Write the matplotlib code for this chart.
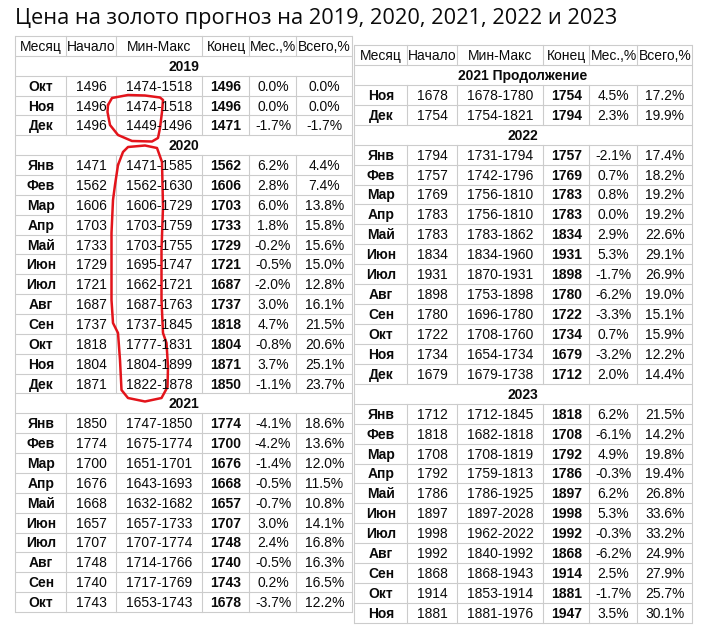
import matplotlib.pyplot as plt

# ---- data -------------------------------------------------------------
headers = ["Месяц", "Начало", "Мин-Макс", "Конец", "Мес.,%", "Всего,%"]

# left table
left_sections = ["2019", "2020", "2021"]
left_counts = [3, 12, 10]
left_months = ["Окт", "Ноя", "Дек",
               "Янв", "Фев", "Мар", "Апр", "Май", "Июн", "Июл", "Авг", "Сен", "Окт", "Ноя", "Дек",
               "Янв", "Фев", "Мар", "Апр", "Май", "Июн", "Июл", "Авг", "Сен", "Окт"]
left_start = [1496, 1496, 1496,
              1471, 1562, 1606, 1703, 1733, 1729, 1721, 1687, 1737, 1818, 1804, 1871,
              1850, 1774, 1700, 1676, 1668, 1657, 1707, 1748, 1740, 1743]
left_low = [1474, 1474, 1449,
            1471, 1562, 1606, 1703, 1703, 1695, 1662, 1687, 1737, 1777, 1804, 1822,
            1747, 1675, 1651, 1643, 1632, 1657, 1707, 1714, 1717, 1653]
left_high = [1518, 1518, 1496,
             1585, 1630, 1729, 1759, 1755, 1747, 1721, 1763, 1845, 1831, 1899, 1878,
             1850, 1774, 1701, 1693, 1682, 1733, 1774, 1766, 1769, 1743]
left_end = [1496, 1496, 1471,
            1562, 1606, 1703, 1733, 1729, 1721, 1687, 1737, 1818, 1804, 1871, 1850,
            1774, 1700, 1676, 1668, 1657, 1707, 1748, 1740, 1743, 1678]
left_mon = [0.0, 0.0, -1.7,
            6.2, 2.8, 6.0, 1.8, -0.2, -0.5, -2.0, 3.0, 4.7, -0.8, 3.7, -1.1,
            -4.1, -4.2, -1.4, -0.5, -0.7, 3.0, 2.4, -0.5, 0.2, -3.7]
left_tot = [0.0, 0.0, -1.7,
            4.4, 7.4, 13.8, 15.8, 15.6, 15.0, 12.8, 16.1, 21.5, 20.6, 25.1, 23.7,
            18.6, 13.6, 12.0, 11.5, 10.8, 14.1, 16.8, 16.3, 16.5, 12.2]

# right table
right_sections = ["2021 Продолжение", "2022", "2023"]
right_counts = [2, 12, 11]
right_months = ["Ноя", "Дек",
                "Янв", "Фев", "Мар", "Апр", "Май", "Июн", "Июл", "Авг", "Сен", "Окт", "Ноя", "Дек",
                "Янв", "Фев", "Мар", "Апр", "Май", "Июн", "Июл", "Авг", "Сен", "Окт", "Ноя"]
right_start = [1678, 1754,
               1794, 1757, 1769, 1783, 1783, 1834, 1931, 1898, 1780, 1722, 1734, 1679,
               1712, 1818, 1708, 1792, 1786, 1897, 1998, 1992, 1868, 1914, 1881]
right_low = [1678, 1754,
             1731, 1742, 1756, 1756, 1783, 1834, 1870, 1753, 1696, 1708, 1654, 1679,
             1712, 1682, 1708, 1759, 1786, 1897, 1962, 1840, 1868, 1853, 1881]
right_high = [1780, 1821,
              1794, 1796, 1810, 1810, 1862, 1960, 1931, 1898, 1780, 1760, 1734, 1738,
              1845, 1818, 1819, 1813, 1925, 2028, 2022, 1992, 1943, 1914, 1976]
right_end = [1754, 1794,
             1757, 1769, 1783, 1783, 1834, 1931, 1898, 1780, 1722, 1734, 1679, 1712,
             1818, 1708, 1792, 1786, 1897, 1998, 1992, 1868, 1914, 1881, 1947]
right_mon = [4.5, 2.3,
             -2.1, 0.7, 0.8, 0.0, 2.9, 5.3, -1.7, -6.2, -3.3, 0.7, -3.2, 2.0,
             6.2, -6.1, 4.9, -0.3, 6.2, 5.3, -0.3, -6.2, 2.5, -1.7, 3.5]
right_tot = [17.2, 19.9,
             17.4, 18.2, 19.2, 19.2, 22.6, 29.1, 26.9, 19.0, 15.1, 15.9, 12.2, 14.4,
             21.5, 14.2, 19.8, 19.4, 26.8, 33.6, 33.2, 24.9, 27.9, 25.7, 30.1]

title = "Цена на золото прогноз на 2019, 2020, 2021, 2022 и 2023"

# ---- drawing ----------------------------------------------------------
W, H = 710, 632
fig = plt.figure(figsize=(W / 100, H / 100), dpi=100)
ax = fig.add_axes([0, 0, 1, 1])
ax.set_xlim(0, W)
ax.set_ylim(H, 0)
ax.axis("off")

GRID = "#cccccc"
FONT = "Liberation Sans"
FS = 10


def draw_table(x_edges, top, rh, sections, counts, months, start, low, high, end, mon, tot):
    rows = []
    rows.append(("header", headers))
    k = 0
    for sec, n in zip(sections, counts):
        rows.append(("section", sec))
        for i in range(k, k + n):
            rows.append(("data", [months[i], str(start[i]), f"{low[i]}-{high[i]}",
                                  str(end[i]), f"{mon[i]:.1f}%", f"{tot[i]:.1f}%"]))
        k += n
    x0, x1 = x_edges[0], x_edges[-1]
    bottom = top + rh * len(rows)
    # horizontal lines
    for r in range(len(rows) + 1):
        y = top + r * rh
        ax.plot([x0, x1], [y, y], color=GRID, lw=0.8, solid_capstyle="butt")
    # outer verticals
    ax.plot([x0, x0], [top, bottom], color=GRID, lw=0.8)
    ax.plot([x1, x1], [top, bottom], color=GRID, lw=0.8)
    for r, (kind, content) in enumerate(rows):
        y0 = top + r * rh
        yb = y0 + rh / 2 + 5
        if kind == "section":
            ax.text((x0 + x1) / 2, yb, content, ha="center", va="baseline",
                    fontsize=FS, fontweight="bold", family=FONT, color="#0a0a0a")
            continue
        for c in range(1, len(x_edges) - 1):
            ax.plot([x_edges[c]] * 2, [y0, y0 + rh], color=GRID, lw=0.8)
        for c, txt in enumerate(content):
            bold = kind == "data" and c in (0, 3)
            ax.text((x_edges[c] + x_edges[c + 1]) / 2 + 0.5, yb, txt, ha="center",
                    va="baseline", fontsize=FS, family=FONT, color="#0a0a0a",
                    fontweight="bold" if bold else "normal")


draw_table([15, 66, 116, 202, 249, 296, 352], 36, 19.86,
           left_sections, left_counts, left_months, left_start, left_low, left_high,
           left_end, left_mon, left_tot)
draw_table([354, 407, 457, 543, 589, 637, 692], 45, 19.93,
           right_sections, right_counts, right_months, right_start, right_low, right_high,
           right_end, right_mon, right_tot)

ax.text(15, 24, title, ha="left", va="baseline", fontsize=15.7,
        family="Open Sans", color="#0a0a0a")

# hand-drawn red marks around the min-max column
mark1 = [(108, 105), (112, 98), (128, 95), (145, 95.5), (160, 97.5), (163, 100),
         (162, 112), (160, 128), (158, 138), (152, 141.5), (132, 141), (118, 135),
         (110, 125), (107.5, 112), (108, 105)]
mark2 = [(118, 165), (123, 152), (128, 147), (145, 145.5), (157, 148), (162, 162),
         (163, 207), (161.5, 250), (161.5, 300), (163, 333), (166.5, 343),
         (168, 367), (167.5, 387), (161.5, 398), (145, 401.5), (128, 398),
         (121.5, 390), (120, 360), (118, 333), (113, 323), (111.5, 300),
         (111.5, 233), (113, 200), (115, 185), (118, 165)]
for mk in (mark1, mark2):
    ax.plot([p[0] for p in mk], [p[1] for p in mk], color="#e3141b", lw=1.8,
            solid_joinstyle="round", solid_capstyle="round")

fig.savefig("out.png", dpi=100)
